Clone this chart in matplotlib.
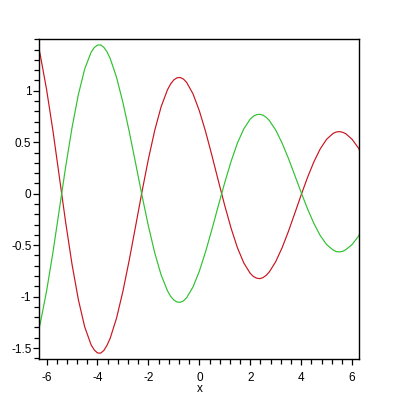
import matplotlib
matplotlib.use('Agg')
import matplotlib.pyplot as plt
from matplotlib.ticker import MultipleLocator

# values
x_vals = [-6.283, -6.25, -6.0, -5.75, -5.5, -5.25, -5.0, -4.75, -4.5, -4.25,
          -4.125, -4.0, -3.875, -3.75, -3.625, -3.5, -3.25, -3.0, -2.75, -2.5,
          -2.25, -2.0, -1.75, -1.5, -1.25, -1.125, -1.0, -0.875, -0.75, -0.625,
          -0.5, -0.25, 0.0, 0.25, 0.5, 0.75, 1.0, 1.25, 1.5, 1.75,
          2.0, 2.125, 2.25, 2.375, 2.5, 2.625, 2.75, 3.0, 3.25, 3.5,
          3.75, 4.0, 4.25, 4.5, 4.75, 5.0, 5.25, 5.375, 5.5, 5.625,
          5.75, 6.0, 6.25, 6.283]
red_vals = [1.39, 1.353, 1.015, 0.614, 0.169, -0.277, -0.685, -1.030, -1.296, -1.469,
            -1.519, -1.548, -1.550, -1.524, -1.474, -1.405, -1.209, -0.948, -0.643, -0.313,
            0.020, 0.336, 0.616, 0.845, 1.010, 1.067, 1.106, 1.126, 1.129, 1.114,
            1.082, 0.971, 0.806, 0.600, 0.366, 0.122, -0.117, -0.338, -0.528, -0.675,
            -0.775, -0.805, -0.821, -0.826, -0.816, -0.794, -0.760, -0.661, -0.526, -0.366,
            -0.190, -0.012, 0.158, 0.310, 0.436, 0.529, 0.585, 0.599, 0.603, 0.597,
            0.583, 0.528, 0.443, 0.425]
green_vals = [-1.295, -1.265, -0.949, -0.574, -0.158, 0.259, 0.640, 0.963, 1.212, 1.374,
              1.420, 1.444, 1.446, 1.422, 1.378, 1.314, 1.130, 0.886, 0.601, 0.293,
              -0.019, -0.314, -0.576, -0.790, -0.944, -0.998, -1.034, -1.053, -1.056, -1.042,
              -1.012, -0.908, -0.754, -0.561, -0.342, -0.114, 0.109, 0.316, 0.494, 0.631,
              0.725, 0.753, 0.768, 0.771, 0.763, 0.742, 0.711, 0.618, 0.492, 0.342,
              0.178, 0.011, -0.148, -0.290, -0.408, -0.495, -0.547, -0.563, -0.566, -0.561,
              -0.545, -0.494, -0.414, -0.397]

x_ticks = [-6, -4, -2, 0, 2, 4, 6]
x_labels = ['-6', '-4', '-2', '0', '2', '4', '6']
y_ticks = [-1.5, -1, -0.5, 0, 0.5, 1]
y_labels = ['-1.5', '-1', '-0.5', '0', '0.5', '1']

plt.rcParams['font.family'] = ['Liberation Sans', 'DejaVu Sans']

fig = plt.figure(figsize=(4, 4), dpi=100)
ax = fig.add_axes([0.0983, 0.1017, 0.8, 0.8])

ax.plot(x_vals, red_vals, color='#c8141e', lw=0.85)
ax.plot(x_vals, green_vals, color='#2fc12f', lw=0.85)

ax.set_xlim(-6.2832, 6.2832)
ax.set_ylim(-1.61, 1.50)

ax.set_xticks(x_ticks)
ax.set_xticklabels(x_labels)
ax.set_yticks(y_ticks)
ax.set_yticklabels(y_labels)
ax.xaxis.set_minor_locator(MultipleLocator(0.4))
ax.yaxis.set_minor_locator(MultipleLocator(0.1))

ax.tick_params(which='both', direction='out', top=False, right=False,
               width=0.9, labelsize=8.5, colors='black')
ax.tick_params(which='major', length=4.5)
ax.tick_params(which='minor', length=3.5)
ax.tick_params(axis='x', which='major', pad=4.5)
ax.tick_params(axis='y', which='major', pad=1.2)

for s in ax.spines.values():
    s.set_linewidth(1.0)
    s.set_color('black')

fig.text(199.3 / 400, 1 - 389 / 400, 'x', ha='center', va='center', fontsize=8.5)

plt.savefig('out.png', dpi=100)
